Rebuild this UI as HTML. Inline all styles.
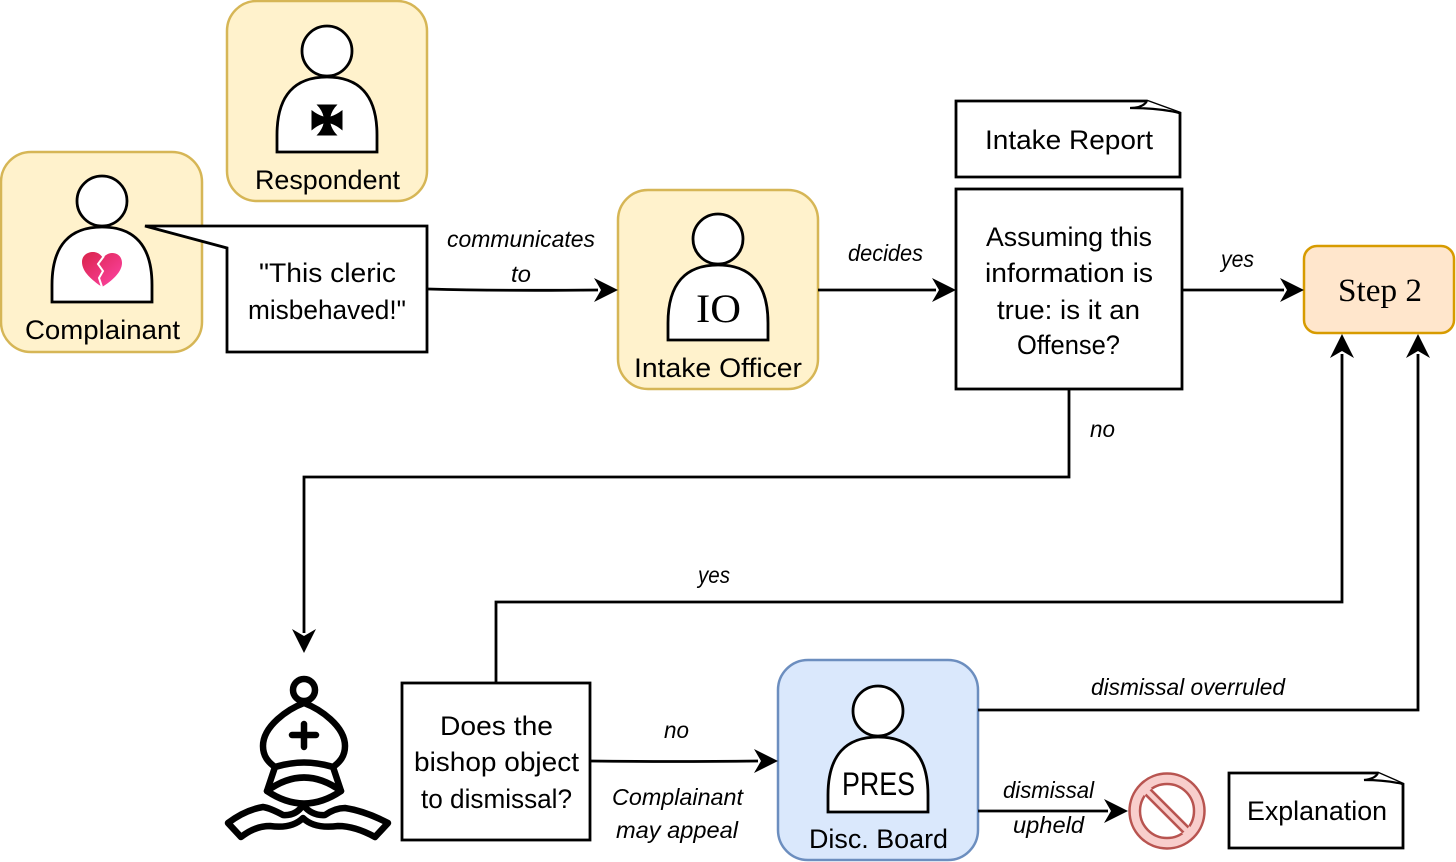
<!DOCTYPE html>
<html><head><meta charset="utf-8"><style>
html,body{margin:0;padding:0;background:#fff;width:1456px;height:862px;overflow:hidden}
svg{display:block}
text{font-family:"Liberation Sans",sans-serif;font-size:27px;fill:#000}
.i{font-style:italic;font-size:23px}
.s{font-family:"Liberation Serif",serif}
.l{fill:none;stroke:#000;stroke-width:2.8}
.o{fill:#fff;stroke:#000;stroke-width:2.8}
.y{fill:#fff2cc;stroke:#d6b656;stroke-width:2.5}
</style></head><body>
<svg width="1456" height="862" viewBox="0 0 1456 862" xmlns="http://www.w3.org/2000/svg">
<defs>
<g id="p"><circle cx="327" cy="51" r="25" class="o"/><path d="M277 152V135C277 95 295 77 327 77C359 77 377 95 377 135V152Z" class="o"/></g>
<path id="ah" d="M0 0L-24 -12L-17 0L-24 12Z" fill="#000"/>
<linearGradient id="hg" x1="0" y1="0" x2="1" y2="1"><stop offset="0" stop-color="#d9234a"/><stop offset="1" stop-color="#ff45a8"/></linearGradient>
<clipPath id="c1"><circle cx="1167" cy="811" r="29"/></clipPath>
<clipPath id="c2"><circle cx="1167" cy="811" r="27"/></clipPath>
</defs>

<!-- boxes -->
<rect x="227" y="1" width="200" height="200" rx="30" class="y"/>
<rect x="1" y="152" width="201" height="200" rx="30" class="y"/>
<rect x="618" y="190" width="200" height="199" rx="30" class="y"/>
<rect x="778" y="660" width="200" height="200" rx="30" fill="#dae8fc" stroke="#6c8ebf" stroke-width="2.5"/>
<rect x="1304" y="246" width="150" height="87" rx="13" fill="#ffe6cc" stroke="#d79b00" stroke-width="2.5"/>

<!-- connectors -->
<path class="l" d="M428 289Q500 291 598 290"/><use href="#ah" transform="translate(618,290)"/>
<path class="l" d="M818 290H936"/><use href="#ah" transform="translate(956,290)"/>
<path class="l" d="M1182 290H1284"/><use href="#ah" transform="translate(1304,290)"/>
<path class="l" d="M1069 389V477H304V633"/><use href="#ah" transform="translate(304,653) rotate(90)"/>
<path class="l" d="M496 683V602H1342V354"/><use href="#ah" transform="translate(1342,334) rotate(-90)"/>
<path class="l" d="M978 710H1418V354"/><use href="#ah" transform="translate(1418,334) rotate(-90)"/>
<path class="l" d="M590 761Q670 762 758 761"/><use href="#ah" transform="translate(778,761)"/>
<path class="l" d="M978 811H1108"/><use href="#ah" transform="translate(1128,811)"/>

<!-- people -->
<use href="#p"/>
<use href="#p" transform="translate(-225,150)"/>
<use href="#p" transform="translate(391,188)"/>
<use href="#p" transform="translate(551,660)"/>

<!-- cross pattee -->
<path d="M316.500 104.500H337.500Q332 110 330.500 116.500Q336 115 342.500 110V130.500Q336 125 330.500 123.500Q332 130 337.500 135.500H316.500Q322 130 323.500 123.500Q318 125 311.500 130.500V110Q318 115 323.500 116.500Q322 110 316.500 104.500Z" fill="#000"/>

<!-- broken heart -->
<path d="M102 287C92 280 82 272 82 262C82 255 88 252 93 252C98 252 101 255 103 258C105 255 109 253 112 253C118 253 122 257 122 263C122 272 112 281 102 287Z" fill="url(#hg)"/>
<path d="M104 256L98 264L103 271L99 278L102 287" fill="none" stroke="#fff" stroke-width="2"/>

<!-- callout -->
<path d="M145 226H427V352H227V248Z" class="o"/>

<!-- rects -->
<path d="M956 101H1147L1180 113V177H956Z" class="o"/>
<path d="M1147 101Q1143 108 1130 108Q1158 108 1180 113" fill="#fff" stroke="#000" stroke-width="2.200"/>
<rect x="956" y="189" width="226" height="200" class="o"/>
<rect x="402" y="683" width="188" height="157" class="o"/>
<path d="M1229 773H1378L1403 784V848H1229Z" class="o"/>
<path d="M1378 773Q1375 779 1364 780Q1385 780 1403 784" fill="#fff" stroke="#000" stroke-width="2.200"/>

<!-- bishop -->
<g fill="none" stroke="#000" stroke-width="6.500" stroke-linejoin="round" stroke-linecap="round">
<circle cx="304" cy="690" r="11" fill="#fff"/>
<path d="M304 703C288 709 263 726 263 746C263 756 268 762 275 767C295 761 313 761 333 767C340 762 345 756 345 746C345 726 320 709 304 703Z"/>
<path d="M304 724V747M292 735H316"/>
<path d="M275 767L267 791M333 767L341 791"/>
<path d="M267 791Q304 764 341 791Q304 816 267 791Z"/>
<path d="M303 805Q296 816 283 815Q270 808 263 807Q245 810 228 823L241 837Q255 826 270 826Q292 829 303 818Q314 829 338 826Q355 826 375 837L388 823Q365 811 345 808Q335 808 325 815Q312 816 303 805Z"/>
</g>

<!-- no sign -->
<circle cx="1167" cy="811" r="37.500" fill="#f8cecc" stroke="#b85450" stroke-width="2.500"/>
<circle cx="1167" cy="811" r="27" fill="#fff" stroke="#b85450" stroke-width="2.500"/>
<g transform="rotate(45 1167 811)">
<rect x="1130" y="806" width="74" height="10" fill="#f8cecc" clip-path="url(#c1)"/>
</g>
<g clip-path="url(#c2)"><path d="M1140 789L1190 839M1145 784L1195 834" stroke="#b85450" stroke-width="2.500"/></g>

<!-- labels -->
<g>
<text x="255" y="189" textLength="145" lengthAdjust="spacingAndGlyphs">Respondent</text>
<text x="25" y="339" textLength="155" lengthAdjust="spacingAndGlyphs">Complainant</text>
<text x="259" y="282" textLength="137" lengthAdjust="spacingAndGlyphs">"This cleric</text>
<text x="248" y="319" textLength="158" lengthAdjust="spacingAndGlyphs">misbehaved!"</text>
<text class="i" x="447" y="247" textLength="148" lengthAdjust="spacingAndGlyphs">communicates</text>
<text class="i" x="511" y="282" textLength="20" lengthAdjust="spacingAndGlyphs">to</text>
<text class="s" x="696" y="322" textLength="45" lengthAdjust="spacingAndGlyphs" style="font-size:40px">IO</text>
<text x="634" y="377" textLength="168" lengthAdjust="spacingAndGlyphs">Intake Officer</text>
<text class="i" x="848" y="261" textLength="75" lengthAdjust="spacingAndGlyphs">decides</text>
<text x="985" y="149" textLength="168" lengthAdjust="spacingAndGlyphs">Intake Report</text>
<text x="986" y="246" textLength="166" lengthAdjust="spacingAndGlyphs">Assuming this</text>
<text x="985" y="282" textLength="168" lengthAdjust="spacingAndGlyphs">information is</text>
<text x="997" y="319" textLength="143" lengthAdjust="spacingAndGlyphs">true: is it an</text>
<text x="1017" y="354" textLength="103" lengthAdjust="spacingAndGlyphs">Offense?</text>
<text class="i" x="1221" y="267" textLength="33" lengthAdjust="spacingAndGlyphs">yes</text>
<text class="s" x="1338" y="301" textLength="84" lengthAdjust="spacingAndGlyphs" style="font-size:33px">Step 2</text>
<text class="i" x="1090" y="437" textLength="25" lengthAdjust="spacingAndGlyphs">no</text>
<text class="i" x="698" y="583" textLength="32" lengthAdjust="spacingAndGlyphs">yes</text>
<text x="440" y="735" textLength="113" lengthAdjust="spacingAndGlyphs">Does the</text>
<text x="414" y="771" textLength="165" lengthAdjust="spacingAndGlyphs">bishop object</text>
<text x="421" y="808" textLength="151" lengthAdjust="spacingAndGlyphs">to dismissal?</text>
<text class="i" x="664" y="738" textLength="25" lengthAdjust="spacingAndGlyphs">no</text>
<text class="i" x="612" y="805" textLength="131" lengthAdjust="spacingAndGlyphs">Complainant</text>
<text class="i" x="616" y="838" textLength="122" lengthAdjust="spacingAndGlyphs">may appeal</text>
<text x="842" y="795" textLength="73" lengthAdjust="spacingAndGlyphs" style="font-size:32px">PRES</text>
<text x="809" y="848" textLength="139" lengthAdjust="spacingAndGlyphs">Disc. Board</text>
<text class="i" x="1091" y="695" textLength="194" lengthAdjust="spacingAndGlyphs">dismissal overruled</text>
<text class="i" x="1003" y="798" textLength="91" lengthAdjust="spacingAndGlyphs">dismissal</text>
<text class="i" x="1013" y="833" textLength="71" lengthAdjust="spacingAndGlyphs">upheld</text>
<text x="1247" y="820" textLength="140" lengthAdjust="spacingAndGlyphs">Explanation</text>
</g>
</svg>
</body></html>
